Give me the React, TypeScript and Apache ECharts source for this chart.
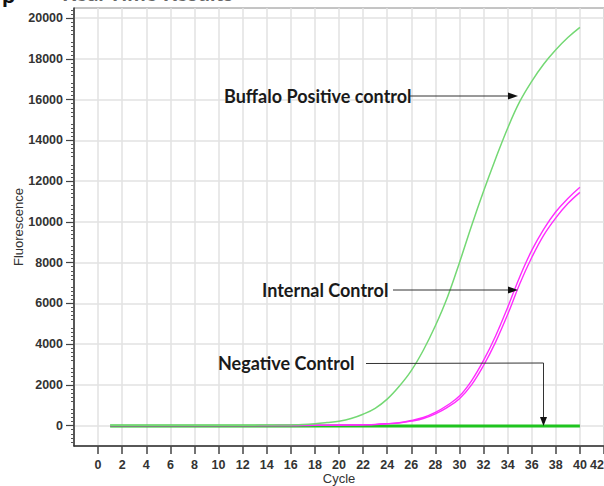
import React, { useEffect, useRef } from "react";
import * as echarts from "echarts";

const cycles = [1, 2, 3, 4, 5, 6, 7, 8, 9, 10, 11, 12, 13, 14, 15, 16, 17, 18, 19, 20, 21, 22, 23, 24, 25, 26, 27, 28, 29, 30, 31, 32, 33, 34, 35, 36, 37, 38, 39, 40];

const buffaloPositive = [20, 20, 20, 20, 20, 20, 20, 20, 20, 20, 20, 22, 24, 26, 30, 35, 50, 90, 150, 220, 350, 560, 850, 1300, 1930, 2700, 3700, 4900, 6300, 8000, 9800, 11500, 13100, 14600, 15900, 16900, 17750, 18450, 19050, 19550];

const internalControlA = [0, 0, 0, 0, 0, 0, 0, 0, 0, 0, 0, 0, 0, 0, 5, 8, 10, 15, 20, 28, 35, 45, 60, 100, 150, 250, 400, 650, 1000, 1450, 2200, 3200, 4400, 5800, 7300, 8600, 9650, 10500, 11150, 11700];

const internalControlB = [0, 0, 0, 0, 0, 0, 0, 0, 0, 0, 0, 0, 0, 0, 3, 5, 8, 12, 16, 22, 28, 36, 50, 85, 130, 220, 350, 580, 900, 1320, 2000, 2950, 4100, 5450, 6950, 8250, 9350, 10200, 10900, 11450];

const negativeControl = [-15, -15, -15, -15, -15, -15, -15, -15, -15, -15, -15, -15, -15, -15, -15, -15, -15, -15, -15, -15, -15, -15, -15, -15, -15, -15, -15, -15, -15, -15, -15, -15, -15, -15, -15, -15, -15, -15, -15, -15];

const yTickLabels = [0, 2000, 4000, 6000, 8000, 10000, 12000, 14000, 16000, 18000, 20000];
const xTickLabels = [0, 2, 4, 6, 8, 10, 12, 14, 16, 18, 20, 22, 24, 26, 28, 30, 32, 34, 36, 38, 40, 42];

const pair = (vals: number[]) => cycles.map((c, i) => [c, vals[i]]);

export default function App() {
  const ref = useRef<HTMLDivElement>(null);
  useEffect(() => {
    document.body.style.margin = "0";
    const chart = echarts.init(ref.current!, undefined, { renderer: "svg" });
    const axisFont = { fontFamily: "Liberation Sans", fontSize: 12.5, fontWeight: "bold", color: "#333" };
    const annFont = "bold 18px Lato";
    chart.setOption({
      animation: false,
      backgroundColor: "#ffffff",
      grid: { left: 74, right: 0, top: 8, bottom: 40, show: true, borderColor: "#8a8a8a", borderWidth: 1, outerBoundsMode: "none", containLabel: false },
      xAxis: {
        type: "value",
        min: -2,
        max: 42,
        interval: 2,
        name: "Cycle",
        nameLocation: "middle",
        nameGap: 26,
        nameMoveOverlap: false,
        nameTextStyle: { fontFamily: "Liberation Sans", fontSize: 13, color: "#333" },
        axisLine: { show: true, onZero: false, lineStyle: { color: "#333", width: 1.5 } },
        axisTick: { show: true, length: 8, customValues: xTickLabels, lineStyle: { color: "#444", width: 1.5 } },
        axisLabel: { ...axisFont, margin: 12, customValues: xTickLabels, alignMaxLabel: "right" },
        splitLine: { show: true, lineStyle: { color: "#e2e2e2", width: 1.5 } },
      },
      yAxis: {
        type: "value",
        min: -1000,
        max: 20500,
        interval: 1000,
        name: "Fluorescence",
        nameLocation: "middle",
        nameGap: 49,
        nameMoveOverlap: false,
        nameTextStyle: { fontFamily: "Liberation Sans", fontSize: 13, color: "#333" },
        axisLine: { show: true, onZero: false, lineStyle: { color: "#333", width: 1.5 } },
        axisTick: { show: true, length: 8, customValues: yTickLabels, lineStyle: { color: "#444", width: 1.2 } },
        minorTick: { show: true, splitNumber: 5, length: 3, lineStyle: { color: "#555", width: 1 } },
        axisLabel: { ...axisFont, margin: 11, customValues: yTickLabels, formatter: (v: number) => String(v) },
        splitLine: { show: true, lineStyle: { color: "#e2e2e2", width: 1.5 } },
      },
      series: [
        {
          name: "Negative Control",
          type: "line",
          data: pair(negativeControl),
          showSymbol: false,
          lineStyle: { color: "#1fc41f", width: 3 },
        },
        {
          name: "Internal Control A",
          type: "line",
          data: pair(internalControlA),
          showSymbol: false,
          smooth: 0.4,
          lineStyle: { color: "#ff2cff", width: 1.4 },
        },
        {
          name: "Internal Control B",
          type: "line",
          data: pair(internalControlB),
          showSymbol: false,
          smooth: 0.4,
          lineStyle: { color: "#ff2cff", width: 1.4 },
        },
        {
          name: "Buffalo Positive control",
          type: "line",
          data: pair(buffaloPositive),
          showSymbol: false,
          smooth: 0.4,
          lineStyle: { color: "#74d874", width: 1.5 },
        },
      ],
      graphic: [
        { type: "text", x: 2, y: 5, style: { text: "p", font: "bold 24px Lato", fill: "#111", textVerticalAlign: "bottom" }, z: 100 },
        { type: "text", x: 62, y: 3, style: { text: "Real Time Results", font: "bold 22px Lato", fill: "#666", textVerticalAlign: "bottom" }, z: 100 },
        { type: "text", x: 224, y: 96, style: { text: "Buffalo Positive control", font: annFont, fill: "#1a1a1a", textVerticalAlign: "middle" }, z: 100 },
        { type: "line", shape: { x1: 410, y1: 96, x2: 510, y2: 96 }, style: { stroke: "#333", lineWidth: 1 }, z: 100 },
        { type: "polygon", shape: { points: [[508, 92.5], [518, 96], [508, 99.5]] }, style: { fill: "#111" }, z: 100 },
        { type: "text", x: 262, y: 290, style: { text: "Internal Control", font: annFont, fill: "#1a1a1a", textVerticalAlign: "middle" }, z: 100 },
        { type: "line", shape: { x1: 393, y1: 290, x2: 510, y2: 290 }, style: { stroke: "#333", lineWidth: 1 }, z: 100 },
        { type: "polygon", shape: { points: [[508, 286.5], [518, 290], [508, 293.5]] }, style: { fill: "#111" }, z: 100 },
        { type: "text", x: 218, y: 363, style: { text: "Negative Control", font: annFont, fill: "#1a1a1a", textVerticalAlign: "middle" }, z: 100 },
        { type: "polyline", shape: { points: [[366, 363.5], [543.5, 363], [543.5, 419]] }, style: { stroke: "#333", lineWidth: 1, fill: "none" }, z: 100 },
        { type: "polygon", shape: { points: [[540, 417], [543.5, 426], [547, 417]] }, style: { fill: "#111" }, z: 100 },
      ],
    });
    return () => chart.dispose();
  }, []);
  return <div ref={ref} style={{ width: 604, height: 486 }} />;
}
